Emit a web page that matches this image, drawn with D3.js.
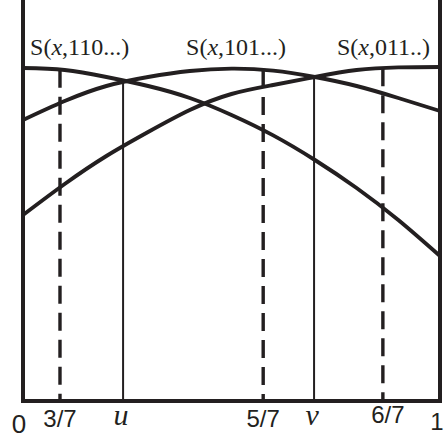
<!DOCTYPE html>
<html>
<head>
<meta charset="utf-8">
<script src="https://cdn.jsdelivr.net/npm/d3@7"></script>
<style>
  html, body { margin: 0; padding: 0; background: #fff; }
  svg { display: block; }
</style>
</head>
<body>
<script>
// Sample abscissae shared by the three curves
const xs = [0, 0.1, 0.2, 0.3, 0.4, 0.5, 0.6, 0.7, 0.8, 0.9, 1];

// Curve values S(x, ...) at each abscissa
const s110 = [0.8325, 0.8275, 0.81, 0.7875, 0.7575, 0.715, 0.664, 0.6025, 0.5325, 0.4525, 0.3625];
const s101 = [0.7025, 0.75, 0.7875, 0.81, 0.825, 0.831, 0.826, 0.81, 0.7875, 0.7575, 0.725];
const s011 = [0.465, 0.5425, 0.6125, 0.6725, 0.7275, 0.7675, 0.79, 0.81, 0.8275, 0.834, 0.835];

// Curve names (the middle "x" is set in italics)
const seriesNames = [["S(", "x", ",110...)"], ["S(", "x", ",101...)"], ["S(", "x", ",011..)"]];

// Marked points on the horizontal axis
const markerPositions = [0.0887, 0.24, 0.576, 0.698, 0.863];
const markerLabels = ["3/7", "u", "5/7", "v", "6/7"];
const markerKinds = ["dashed", "solid", "dashed", "solid", "dashed"];

// Axis end labels
const endPositions = [0, 1];
const endLabels = ["0", "1"];

const W = 444, H = 441;
const ink = "#231f20";
const svg = d3.select("body").append("svg").attr("width", W).attr("height", H);

const x = d3.scaleLinear().domain([0, 1]).range([23, 440]);
const y = d3.scaleLinear().domain([0, 1]).range([401, 1]);

const series = [s110, s101, s011].map(vals => xs.map((xv, i) => [xv, vals[i]]));

// Upper envelope of the curves at a given abscissa
function envelope(p) {
  return d3.max([s110, s101, s011], vals => {
    const i = Math.min(xs.length - 2, Math.max(0, d3.bisectRight(xs, p) - 1));
    const t = (p - xs[i]) / (xs[i + 1] - xs[i]);
    return vals[i] + t * (vals[i + 1] - vals[i]);
  });
}

// Vertical markers
const markers = markerPositions.map((p, i) => ({ p, kind: markerKinds[i], label: markerLabels[i] }));
svg.append("g").selectAll("line").data(markers).join("line")
  .attr("x1", d => x(d.p)).attr("x2", d => x(d.p))
  .attr("y1", d => y(envelope(d.p)))
  .attr("y2", y(0))
  .attr("stroke", ink)
  .attr("stroke-width", d => d.kind === "dashed" ? 3.4 : 2)
  .attr("stroke-dasharray", d => d.kind === "dashed" ? "18,9" : null);

// Curves
const line = d3.line().x(d => x(d[0])).y(d => y(d[1])).curve(d3.curveNatural);
svg.append("g").selectAll("path").data(series).join("path")
  .attr("d", line)
  .attr("fill", "none")
  .attr("stroke", ink)
  .attr("stroke-width", 3.9);

// Frame: left side, base line, right side
svg.append("path")
  .attr("d", `M${x(0)},0 V${y(0)} H${x(1)} V0`)
  .attr("fill", "none")
  .attr("stroke", ink)
  .attr("stroke-width", 4)
  .attr("stroke-linejoin", "miter");

// Curve names above the curves
const nameAnchors = [
  { p: 0.017, anchor: "start" },
  { p: 0.511, anchor: "middle" },
  { p: 0.976, anchor: "end" }
];
const names = svg.append("g")
  .attr("font-family", "'Liberation Serif', 'Times New Roman', serif")
  .attr("font-size", 24)
  .attr("fill", ink)
  .selectAll("text").data(seriesNames).join("text")
  .attr("x", (d, i) => x(nameAnchors[i].p))
  .attr("y", 55)
  .attr("text-anchor", (d, i) => nameAnchors[i].anchor);
names.append("tspan").text(d => d[0]);
names.append("tspan").attr("font-style", "italic").text(d => d[1]);
names.append("tspan").text(d => d[2]);

// Axis labels
const sans = "'Liberation Sans', Arial, sans-serif";
const serif = "'Liberation Serif', 'Times New Roman', serif";
const axisLabels = endPositions.map((p, i) => ({ p, label: endLabels[i] }))
  .concat(markers.map(m => ({ p: m.p, label: m.label })));
function labelStyle(lbl) {
  if (lbl === "u" || lbl === "v") return { family: serif, size: 30, italic: true, base: 425, dx: -2, anchor: "middle" };
  if (lbl === "0") return { family: sans, size: 26, italic: false, base: 433, dx: -4, anchor: "middle" };
  if (lbl === "1") return { family: sans, size: 24, italic: false, base: 430, dx: 3.5, anchor: "end" };
  if (lbl === "6/7") return { family: sans, size: 24, italic: false, base: 423, dx: 5, anchor: "middle" };
  return { family: sans, size: 24, italic: false, base: 427, dx: 0, anchor: "middle" };
}
svg.append("g").selectAll("text").data(axisLabels).join("text")
  .each(function (d) {
    const s = labelStyle(d.label);
    d3.select(this)
      .attr("x", x(d.p) + s.dx)
      .attr("y", s.base)
      .attr("text-anchor", s.anchor)
      .attr("font-family", s.family)
      .attr("font-size", s.size)
      .attr("font-style", s.italic ? "italic" : "normal")
      .attr("fill", ink)
      .text(d.label);
  });
</script>
</body>
</html>
